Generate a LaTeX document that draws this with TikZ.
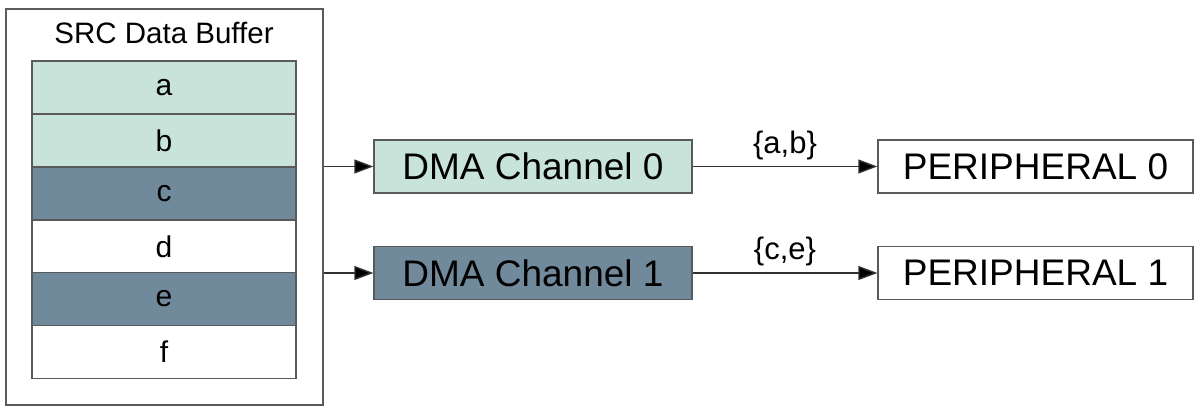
\documentclass[tikz,border=0pt]{standalone}
\usepackage{fontspec}
\setmainfont{Liberation Sans}
\usetikzlibrary{arrows.meta}
\definecolor{lightg}{RGB}{200,228,218}
\definecolor{darkb}{RGB}{112,138,156}
\definecolor{edge}{RGB}{90,90,90}
\definecolor{lineg}{RGB}{50,50,50}
\tikzset{
  cell/.style={draw=edge, line width=1.4pt, minimum width=264pt, minimum height=52.8pt, inner sep=0pt, font=\fontsize{30}{32}\selectfont},
  chan/.style={draw=edge, line width=1.4pt, minimum width=318pt, minimum height=53pt, inner sep=0pt, font=\fontsize{37}{40}\selectfont},
  conn/.style={draw=lineg, line width=1.4pt, -{Triangle[length=19pt,width=14pt,fill=black]}},
  lab/.style={font=\fontsize{31}{33}\selectfont, inner sep=0pt}
}
\begin{document}
\begin{tikzpicture}[x=1pt,y=-1pt]
\useasboundingbox[fill=white] (0,0) rectangle (1201,412);
\node[draw=edge, line width=1.4pt, minimum width=317pt, minimum height=396pt, inner sep=0pt] (outer) at (164.5,207) {};
\node[font=\fontsize{29.5}{31}\selectfont, inner sep=0pt] (title) at (164,33) {SRC Data Buffer};
\node[cell, fill=lightg] (ca) at (164,87.5) {a};
\node[cell, fill=lightg] (cb) at (164,140.5) {b};
\node[cell, fill=darkb] (cc) at (164,193.5) {c};
\node[cell, fill=white] (cd) at (164,246.3) {d};
\node[cell, fill=darkb] (ce) at (164,299) {e};
\node[cell, fill=white] (cf) at (164,352) {f};
\node[chan, fill=lightg] (dma0) at (533,166.5) {DMA Channel 0};
\node[chan, fill=darkb] (dma1) at (533,273) {DMA Channel 1};
\node[chan, fill=white, minimum width=315pt] (p0) at (1035.5,166.5) {PERIPHERAL 0};
\node[chan, fill=white, minimum width=315pt] (p1) at (1035.5,273) {PERIPHERAL 1};
\draw[conn] (outer.east |- dma0.west) -- (dma0.west);
\draw[conn] (outer.east |- dma1.west) -- (dma1.west);
\draw[conn] (dma0.east) -- node[lab, above=6pt] (l0) {\{a,b\}} (p0.west);
\draw[conn] (dma1.east) -- node[lab, above=6pt] (l1) {\{c,e\}} (p1.west);
\end{tikzpicture}
\end{document}
